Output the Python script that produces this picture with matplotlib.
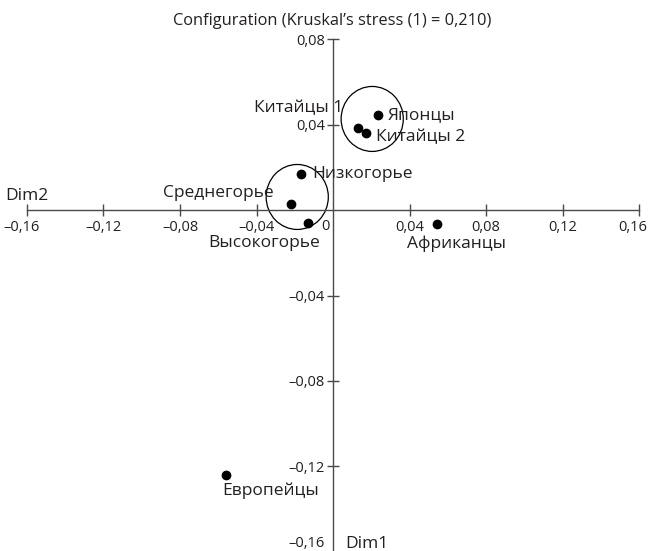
import matplotlib
matplotlib.use("Agg")
import matplotlib.pyplot as plt
from matplotlib.patches import Ellipse
from matplotlib.transforms import ScaledTranslation

plt.rcParams['font.family'] = ['Open Sans', 'DejaVu Sans']

names = ["Японцы", "Китайцы 1", "Китайцы 2", "Низкогорье", "Среднегорье",
         "Высокогорье", "Африканцы", "Европейцы"]
dim2 = [0.0237, 0.0132, 0.0174, -0.0166, -0.0218, -0.0129, 0.0545, -0.0558]
dim1 = [0.0444, 0.0384, 0.0360, 0.0168, 0.0028, -0.0061, -0.0066, -0.1240]

# label offsets in points (dx, dy) and alignment
label_pos = {
    "Японцы": (6.5, 0, 'left', 'center'),
    "Китайцы 1": (-11, 14, 'right', 'center'),
    "Китайцы 2": (7, -3, 'left', 'center'),
    "Низкогорье": (8, 0, 'left', 'center'),
    "Среднегорье": (-13, 8, 'right', 'center'),
    "Высокогорье": (8.6, -14.5, 'right', 'center'),
    "Африканцы": (-21.6, -14, 'left', 'center'),
    "Европейцы": (-2.9, -11, 'left', 'center'),
}

circles = [(0.0205, 0.0426), (-0.0187, 0.0061)]
circle_w, circle_h = 0.0325, 0.0304

xticks = [-0.16, -0.12, -0.08, -0.04, 0.04, 0.08, 0.12, 0.16]
yticks = [-0.16, -0.12, -0.08, -0.04, 0.04, 0.08]

def fmt(v):
    s = f"{abs(v):.2f}".replace('.', ',')
    return ("–" + s) if v < 0 else s

fig = plt.figure(figsize=(6.49, 5.51), dpi=100)
ax = fig.add_axes([0.0416, -0.0018, 0.943, 0.931])
ax.set_xlim(-0.16, 0.16)
ax.set_ylim(-0.16, 0.08)

axcol = '#4a4a4a'
txtcol = '#231f20'
for s in ['top', 'right']:
    ax.spines[s].set_visible(False)
ax.spines['left'].set_position(('data', 0))
ax.spines['bottom'].set_position(('data', 0))
for s in ['left', 'bottom']:
    ax.spines[s].set_color(axcol)
    ax.spines[s].set_linewidth(1.0)

ax.set_xticks(xticks)
ax.set_xticklabels([fmt(v) for v in xticks])
ax.set_yticks(yticks)
ax.set_yticklabels([fmt(v) for v in yticks])
ax.tick_params(axis='both', direction='inout', length=8, width=1.0,
               color=axcol, labelsize=10.5, labelcolor=txtcol, pad=2)
ax.tick_params(axis='x', pad=3)
for lab in ax.get_yticklabels():
    if lab.get_text() == "–0,16":
        lab.set_va('bottom')
        lab.set_transform(lab.get_transform() + ScaledTranslation(0, 0.005, fig.dpi_scale_trans))
for lab in ax.get_xticklabels():
    if lab.get_text() == "0,16":
        lab.set_ha('right')
        lab.set_transform(lab.get_transform() + ScaledTranslation(0.08, 0, fig.dpi_scale_trans))
    if lab.get_text() == "–0,16":
        lab.set_transform(lab.get_transform() + ScaledTranslation(-0.05, 0, fig.dpi_scale_trans))

ax.text(-0.002, -0.0075, "0", ha='right', va='center', fontsize=10.5, color=txtcol)

ax.scatter(dim2, dim1, s=36, color='black', zorder=3, clip_on=False)
for n, x, y in zip(names, dim2, dim1):
    dx, dy, ha, va = label_pos[n]
    ax.annotate(n, (x, y), xytext=(dx, dy), textcoords='offset points',
                ha=ha, va=va, fontsize=12.5, color=txtcol)

for cx, cy in circles:
    ax.add_patch(Ellipse((cx, cy), circle_w, circle_h, fill=False,
                         edgecolor='black', linewidth=0.9))

fig.text(0.5115, 0.962, "Configuration (Kruskal’s stress (1) = 0,210)",
         ha='center', va='center', fontsize=11.8, color=txtcol)
ax.text(0.0065, -0.1599, "Dim1", ha='left', va='bottom', fontsize=12.5, color=txtcol)
ax.text(-0.1715, 0.0065, "Dim2", ha='left', va='center', fontsize=12.5, color=txtcol)

fig.savefig("out.png", dpi=100)
